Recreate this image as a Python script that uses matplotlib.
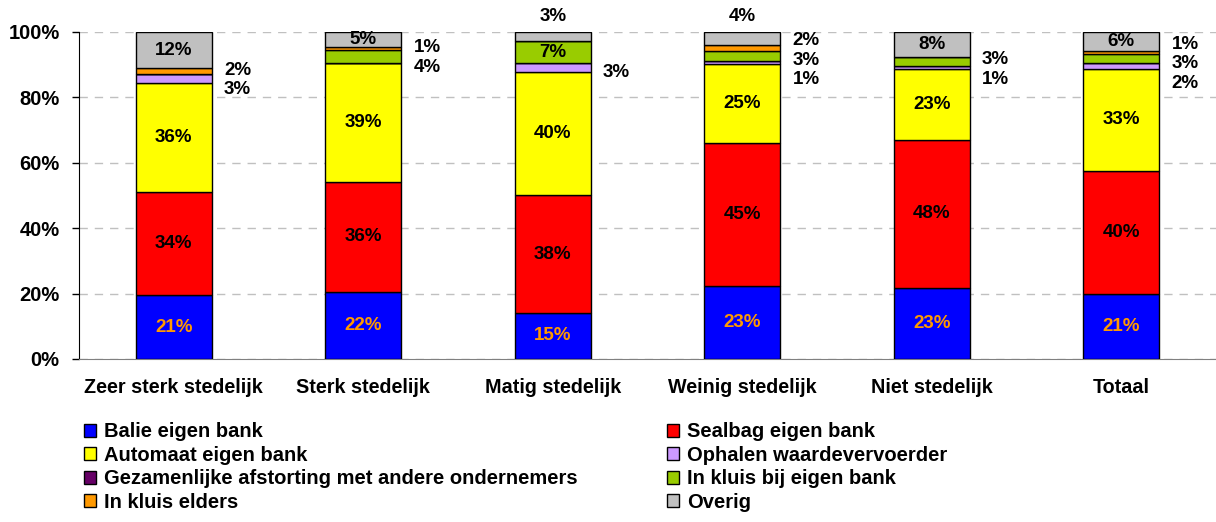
import numpy as np
import matplotlib.pyplot as plt
from matplotlib.patches import Patch

plt.rcParams['font.family'] = ['Liberation Sans', 'DejaVu Sans']
plt.rcParams['font.weight'] = 'bold'

categories = ['Zeer sterk stedelijk', 'Sterk stedelijk', 'Matig stedelijk',
              'Weinig stedelijk', 'Niet stedelijk', 'Totaal']
series = ['Balie eigen bank', 'Sealbag eigen bank', 'Automaat eigen bank',
          'Ophalen waardevervoerder', 'Gezamenlijke afstorting met andere ondernemers',
          'In kluis bij eigen bank', 'In kluis elders', 'Overig']
colors = ['#0000FF', '#FF0000', '#FFFF00', '#CC99FF', '#660066',
          '#99CC00', '#FF9900', '#C0C0C0']

# percentages as labelled (multiple answers, bars are rescaled to 100%)
balie = [21, 22, 15, 23, 23, 21]
sealbag = [34, 36, 38, 45, 48, 40]
automaat = [36, 39, 40, 25, 23, 33]
ophalen = [3, 0, 3, 1, 1, 2]
gezamenlijk = [0, 0, 0, 0, 0, 0]
kluis_eigen = [0, 4, 7, 3, 3, 3]
kluis_elders = [2, 1, 0, 2, 0, 1]
overig = [12, 5, 3, 4, 8, 6]

data = np.array([balie, sealbag, automaat, ophalen, gezamenlijk,
                 kluis_eigen, kluis_elders, overig], dtype=float)
totals = data.sum(axis=0)
shares = data / totals * 100

fig = plt.figure(figsize=(12.16, 5.22), dpi=100)
ax = fig.add_axes([0.065, 0.3123, 0.935, 0.6264])

x = np.arange(len(categories))
width = 0.4
bottom = np.zeros(len(categories))
for k in range(len(series)):
    ax.bar(x, shares[k], width, bottom=bottom, color=colors[k],
           edgecolor='black', linewidth=1, zorder=3)
    bottom += shares[k]

fs = 13.5
gap = 6.0
for i in range(len(categories)):
    cum = np.concatenate([[0], np.cumsum(shares[:, i])])
    small = []
    for k in range(len(series)):
        v = data[k, i]
        if v <= 0:
            continue
        c = (cum[k] + cum[k + 1]) / 2
        txt = f'{v:.0f}%'
        if k == 7:
            if v >= 5:
                ax.text(x[i], c, txt, ha='center', va='center', fontsize=fs,
                        fontweight='bold', zorder=5)
            else:
                ax.text(x[i], 104.6, txt, ha='center', va='center', fontsize=fs,
                        fontweight='bold', clip_on=False, zorder=5)
        elif v >= 5:
            col = '#FF9900' if k == 0 else 'black'
            ax.text(x[i], c, txt, ha='center', va='center', fontsize=fs,
                    fontweight='bold', color=col, zorder=5)
        else:
            small.append((c, txt))
    if small:
        m = np.mean([s[0] for s in small]) - 1.5
        n = len(small)
        for j, (c, txt) in enumerate(small):
            y = m + (j - (n - 1) / 2) * gap
            ax.text(x[i] + width / 2 + 0.065, y, txt, ha='left', va='center',
                    fontsize=fs, fontweight='bold', zorder=5)

ax.set_xlim(-0.5, len(categories) - 0.5)
ax.set_ylim(0, 100)
ax.set_yticks(np.arange(0, 101, 20))
ax.set_yticklabels([f'{t}%' for t in range(0, 101, 20)], fontsize=14.5, fontweight='bold')
ax.set_xticks(x)
ax.set_xticklabels(categories, fontsize=14.2, fontweight='bold')
ax.tick_params(axis='x', length=0, pad=14)
ax.tick_params(axis='y', length=5, width=1, pad=9)
ax.yaxis.grid(True, linestyle=(0, (6, 5)), color='#C0C0C0', linewidth=1, zorder=0)
for s in ['top', 'right']:
    ax.spines[s].set_visible(False)
ax.spines['left'].set_color('black')
ax.spines['bottom'].set_color('#808080')

handles = [Patch(facecolor=colors[k], edgecolor='black', linewidth=1, label=series[k])
           for k in range(len(series))]
order = [0, 2, 4, 6, 1, 3, 5, 7]
fig.legend([handles[k] for k in order], [series[k] for k in order],
           loc='upper left', bbox_to_anchor=(0.061, 0.21), ncol=2, frameon=False,
           prop={'size': 14.5, 'weight': 'bold'}, handlelength=0.6, handleheight=0.6,
           handletextpad=0.4, labelspacing=0.22, columnspacing=4.4, borderpad=0)

fig.savefig('out.png', dpi=100)
